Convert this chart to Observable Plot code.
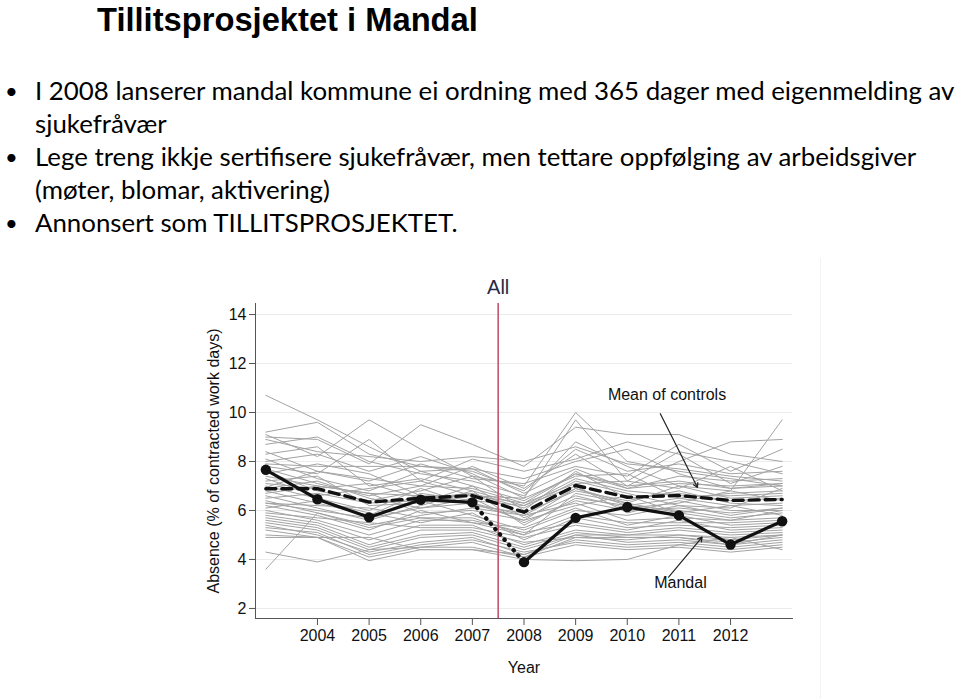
<!DOCTYPE html>
<html><head><meta charset="utf-8">
<script src="https://cdn.jsdelivr.net/npm/d3@7"></script>
<script src="https://cdn.jsdelivr.net/npm/@observablehq/plot@0.6"></script>
<style>
html,body{margin:0;padding:0;background:#fff;width:960px;height:699px;overflow:hidden;}
#slide{position:absolute;left:0;top:0;}
#chart{position:absolute;left:0;top:258px;}
#edge{position:absolute;left:820px;top:258px;width:0;height:441px;border-left:1px solid #f3f3f3;}
</style></head><body>
<svg id="slide" width="960" height="258"></svg>
<div id="chart"></div>
<div id="edge"></div>
<script>
// ---------- slide text ----------
const title = "Tillitsprosjektet i Mandal";
const bulletLines = [
  {bullet: true,  text: "I 2008 lanserer mandal kommune ei ordning med 365 dager med eigenmelding av"},
  {bullet: false, text: "sjukefråvær"},
  {bullet: true,  text: "Lege treng ikkje sertifisere sjukefråvær, men tettare oppfølging av arbeidsgiver"},
  {bullet: false, text: "(møter, blomar, aktivering)"},
  {bullet: true,  text: "Annonsert som TILLITSPROSJEKTET."}
];

// ---------- chart data ----------
const years = [2003, 2004, 2005, 2006, 2007, 2008, 2009, 2010, 2011, 2012, 2013];
const mandal = [7.66, 6.46, 5.72, 6.44, 6.33, 3.89, 5.70, 6.14, 5.80, 4.61, 5.56];
const meanControls = [6.89, 6.89, 6.34, 6.50, 6.61, 5.93, 7.02, 6.54, 6.61, 6.41, 6.45];
const controls = [
  [10.7, 9.7, 8.6, 7.6, 7.0, 6.4, 7.5, 7.0, 7.2, 6.9, 7.1],
  [9.2, 9.6, 8.3, 7.8, 7.6, 6.8, 8.5, 7.6, 7.9, 7.5, 7.6],
  [9.1, 8.2, 9.7, 8.5, 7.4, 7.0, 10.0, 8.0, 7.6, 7.3, 7.0],
  [9.0, 8.9, 7.9, 9.5, 8.7, 7.8, 9.4, 9.1, 9.1, 8.3, 8.0],
  [8.7, 9.0, 8.0, 7.5, 7.2, 6.6, 8.8, 7.8, 7.0, 6.8, 9.7],
  [8.4, 7.6, 7.3, 7.0, 7.8, 6.9, 8.3, 7.0, 8.0, 8.8, 8.9],
  [8.3, 8.6, 7.0, 7.3, 6.8, 6.2, 7.3, 6.8, 6.6, 6.6, 6.7],
  [8.1, 7.3, 6.8, 7.6, 7.7, 7.3, 8.0, 8.5, 7.5, 6.9, 7.0],
  [7.9, 7.8, 7.8, 7.8, 7.7, 6.7, 7.7, 6.9, 7.4, 7.2, 7.3],
  [7.7, 7.1, 6.6, 7.0, 6.9, 6.3, 7.1, 7.2, 6.9, 7.8, 6.8],
  [7.6, 6.8, 6.4, 6.8, 7.4, 6.0, 7.6, 6.5, 6.7, 6.4, 6.5],
  [7.5, 7.9, 7.5, 6.6, 6.3, 5.8, 6.9, 6.3, 7.0, 6.5, 6.6],
  [7.3, 6.6, 6.9, 7.2, 6.6, 6.5, 7.4, 7.5, 6.5, 6.2, 6.3],
  [7.2, 7.4, 6.2, 6.3, 7.0, 5.7, 6.6, 6.1, 6.3, 6.8, 6.4],
  [7.1, 6.9, 7.1, 6.5, 6.7, 6.1, 7.2, 6.7, 6.2, 6.1, 6.9],
  [7.0, 6.5, 6.0, 6.9, 6.2, 5.9, 6.8, 6.4, 6.8, 6.3, 6.2],
  [6.9, 7.2, 6.5, 6.1, 6.5, 5.5, 6.4, 6.0, 6.1, 5.9, 6.1],
  [6.8, 6.3, 5.8, 6.7, 6.4, 6.2, 7.0, 5.9, 6.4, 6.0, 6.0],
  [6.7, 7.0, 6.7, 5.9, 6.0, 5.6, 6.2, 6.6, 5.9, 6.2, 5.8],
  [6.6, 6.1, 5.6, 6.2, 6.8, 5.4, 6.5, 6.2, 6.0, 5.7, 5.9],
  [6.5, 6.7, 6.3, 6.4, 5.8, 5.2, 6.0, 5.8, 6.2, 5.8, 6.1],
  [6.4, 5.9, 5.4, 5.8, 6.1, 5.8, 6.3, 5.6, 5.7, 5.6, 5.7],
  [6.3, 6.2, 6.1, 5.7, 5.7, 5.0, 5.8, 5.5, 5.5, 5.5, 5.6],
  [6.2, 5.8, 5.2, 6.0, 5.5, 5.3, 6.1, 5.4, 5.8, 5.4, 5.5],
  [6.1, 6.4, 5.9, 5.5, 5.9, 4.8, 5.7, 5.3, 5.4, 5.3, 5.4],
  [6.0, 5.6, 5.0, 5.6, 5.6, 5.1, 5.5, 5.2, 5.6, 5.2, 5.3],
  [5.9, 5.7, 5.5, 5.3, 5.3, 4.9, 5.4, 5.1, 5.3, 5.1, 5.2],
  [5.8, 5.5, 4.8, 5.4, 5.4, 4.6, 5.2, 5.0, 5.2, 5.0, 5.1],
  [5.7, 5.4, 4.6, 5.2, 5.2, 4.7, 4.9, 4.8, 5.0, 4.8, 5.0],
  [5.6, 5.3, 4.5, 5.0, 5.1, 4.5, 5.1, 4.9, 4.9, 4.7, 4.9],
  [5.5, 5.2, 4.4, 4.9, 5.0, 4.4, 5.0, 4.7, 4.8, 4.6, 4.8],
  [5.4, 5.0, 4.3, 4.7, 4.9, 4.2, 4.8, 4.6, 4.7, 4.5, 4.7],
  [5.3, 5.1, 4.2, 4.6, 4.8, 4.3, 4.7, 4.5, 4.6, 4.4, 4.6],
  [5.2, 4.9, 4.1, 4.5, 4.7, 4.1, 4.6, 4.4, 4.5, 4.3, 4.5],
  [5.0, 4.9, 4.9, 4.4, 4.4, 4.0, 3.95, 4.0, 4.6, 4.9, 4.4],
  [4.9, 4.9, 3.95, 4.4, 4.4, 4.2, 5.0, 5.0, 5.0, 4.9, 5.0],
  [4.3, 3.9, 4.4, 4.5, 4.5, 4.1, 4.9, 4.9, 4.9, 4.6, 5.0],
  [3.6, 5.9, 5.3, 5.7, 5.5, 5.0, 6.7, 6.3, 5.9, 5.6, 6.0],
  [8.0, 8.3, 7.6, 8.2, 7.5, 6.5, 9.7, 7.2, 8.4, 8.0, 7.5],
  [7.8, 7.5, 8.9, 7.2, 8.1, 7.6, 8.1, 8.8, 8.3, 7.1, 7.8],
  [6.95, 7.6, 7.2, 7.9, 7.3, 7.1, 7.8, 7.4, 8.7, 7.6, 8.5],
  [8.9, 8.4, 8.2, 8.0, 8.2, 8.0, 8.6, 7.9, 7.7, 7.4, 7.2],
  [6.3, 6.0, 5.7, 6.1, 6.3, 5.6, 6.9, 6.2, 6.5, 6.7, 6.8],
  [7.4, 7.0, 6.7, 6.6, 6.6, 6.3, 7.5, 6.9, 7.1, 7.0, 7.1]
];
const xTicks = [2004, 2005, 2006, 2007, 2008, 2009, 2010, 2011, 2012];
const yTicks = [2, 4, 6, 8, 10, 12, 14];
const reformYear = 2007.5;
const reformLabel = "All";
const yLabel = "Absence (% of contracted work days)";
const xLabel = "Year";
const annotationLabels = ["Mean of controls", "Mandal"];
const annotationTextX = [2010.77, 2011.03];
const annotationTextY = [10.73, 3.06];
const arrowFromX = [2010.64, 2010.8];
const arrowFromY = [9.95, 3.28];
const arrowToX = [2011.36, 2011.45];
const arrowToY = [6.94, 4.91];

// ---------- slide text rendering ----------
const NS = "http://www.w3.org/2000/svg";
const slide = document.getElementById("slide");
function addText(str, x, y, size, weight, family) {
  const t = document.createElementNS(NS, "text");
  t.setAttribute("x", x); t.setAttribute("y", y);
  t.setAttribute("font-family", family || "Lato, 'Open Sans', sans-serif");
  t.setAttribute("font-size", size);
  t.setAttribute("font-weight", weight);
  t.setAttribute("fill", "#000");
  t.textContent = str;
  slide.appendChild(t);
  return t;
}
const titleEl = addText(title, 97, 31, 32, "bold", "'Liberation Sans', Arial, sans-serif");
titleEl.setAttribute("font-size", 32 * 381 / titleEl.getComputedTextLength());

const bodyEls = [];
bulletLines.forEach((l, i) => {
  const y = 100 + i * 32.9;
  if (l.bullet) addText("•", 5, y - 1, 22, "normal");
  bodyEls.push(addText(l.text, 35, y, 26, "normal"));
});
const bodySize = 26 * 920 / bodyEls[0].getComputedTextLength();
bodyEls.forEach(e => e.setAttribute("font-size", bodySize));

// ---------- chart ----------
const controlRows = controls.flatMap((s, i) => s.map((v, j) => ({id: i, year: years[j], value: v})));
const mandalRows = years.map((y, i) => ({year: y, value: mandal[i]}));
const meanRows = years.map((y, i) => ({year: y, value: meanControls[i]}));
const preRows = mandalRows.filter(d => d.year <= 2007);
const gapRows = mandalRows.filter(d => d.year === 2007 || d.year === 2008);
const postRows = mandalRows.filter(d => d.year >= 2008);
const annotations = annotationLabels.map((label, i) => ({
  label, tx: annotationTextX[i], ty: annotationTextY[i],
  x1: arrowFromX[i], y1: arrowFromY[i], x2: arrowToX[i], y2: arrowToY[i]
}));

const chart = Plot.plot({
  width: 960,
  height: 441,
  marginLeft: 255,
  marginRight: 168,
  marginTop: 45,
  marginBottom: 81,
  style: {fontFamily: "'Liberation Sans', Arial, sans-serif", fontSize: "15px", color: "#222", background: "white"},
  x: {domain: [2002.8, 2013.2]},
  y: {domain: [1.59, 14.45]},
  marks: [
    Plot.gridY(yTicks, {stroke: "#ececec", strokeOpacity: 1, strokeWidth: 1}),
    Plot.line(controlRows, {x: "year", y: "value", z: "id", stroke: "#a3a3a3", strokeWidth: 1}),
    Plot.ruleX([reformYear], {stroke: "#c4566f", strokeWidth: 1.6}),
    Plot.line(meanRows, {x: "year", y: "value", stroke: "#111", strokeWidth: 3.4, strokeDasharray: "10,6"}),
    Plot.line(preRows, {x: "year", y: "value", stroke: "#111", strokeWidth: 3.2}),
    Plot.line(gapRows, {x: "year", y: "value", stroke: "#111", strokeWidth: 4.2, strokeDasharray: "0.5,6.5", strokeLinecap: "round"}),
    Plot.line(postRows, {x: "year", y: "value", stroke: "#111", strokeWidth: 3.2}),
    Plot.dot(mandalRows, {x: "year", y: "value", r: 5.2, fill: "#111", stroke: "none"}),
    Plot.arrow(annotations, {x1: "x1", y1: "y1", x2: "x2", y2: "y2", stroke: "#222", strokeWidth: 1.2, headLength: 6, bend: false}),
    Plot.text(annotations, {x: "tx", y: "ty", text: "label", fontSize: 16, fill: "#111"}),
    Plot.text([{x: reformYear, label: reformLabel}], {x: "x", text: "label", frameAnchor: "top", lineAnchor: "middle", dy: -16, fontSize: 20, fill: "#262a45"}),
    Plot.axisY(yTicks, {tickSize: 6, tickPadding: 3, stroke: "#555", fill: "#111", fontSize: 16,
      label: yLabel, labelAnchor: "center", labelArrow: "none", labelOffset: 48}),
    Plot.axisX(xTicks, {tickSize: 7, tickPadding: 4, stroke: "#555", fill: "#111", fontSize: 16, tickFormat: d => String(d),
      label: xLabel, labelAnchor: "center", labelArrow: "none", labelOffset: 54}),
    Plot.frame({anchor: "left", stroke: "#555"}),
    Plot.frame({anchor: "bottom", stroke: "#555"})
  ]
});
document.getElementById("chart").appendChild(chart);
</script>
</body></html>
